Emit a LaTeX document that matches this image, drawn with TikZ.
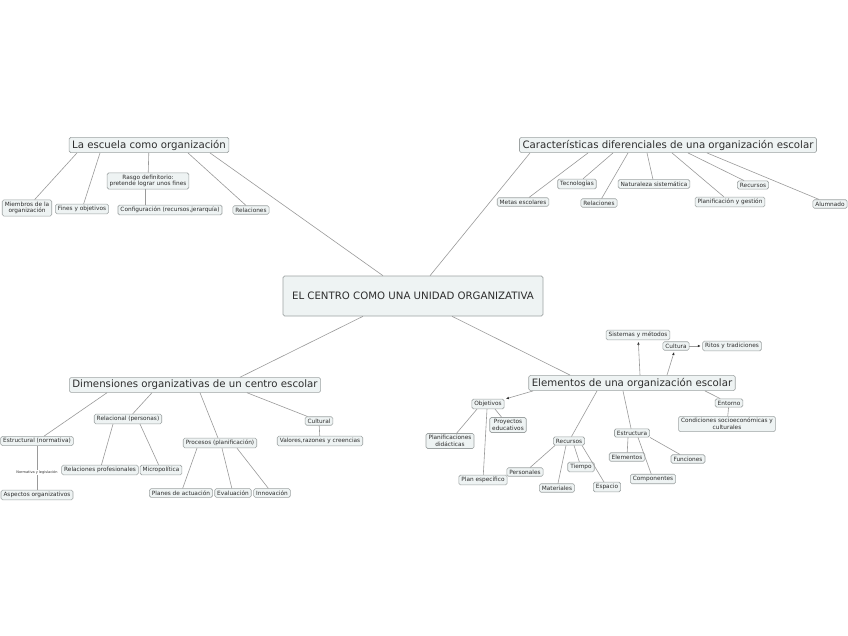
\documentclass[tikz,border=0pt]{standalone}
\usepackage{fontspec}
\setmainfont{DejaVu Sans}
\usetikzlibrary{calc, arrows.meta}

\definecolor{boxfill}{HTML}{EEF3F3}
\definecolor{boxline}{HTML}{9EA3A3}
\definecolor{linkgray}{HTML}{9A9A9A}
\definecolor{inkgray}{HTML}{2E2E2E}

\tikzset{
  boxbase/.style={draw=boxline, fill=boxfill, rounded corners=1.6pt, text=inkgray, line width=0.6pt},
  central/.style={boxbase, font=\fontsize{10.2}{12}\selectfont, minimum width=260pt, minimum height=40pt},
  topic/.style={boxbase, font=\fontsize{10.2}{12}\selectfont, inner xsep=3pt, inner ysep=2.5pt},
  leaf/.style={boxbase, font=\fontsize{5.8}{6.6}\selectfont, inner xsep=2.5pt, inner ysep=2pt, align=center},
  link/.style={draw=linkgray, line width=0.6pt},
  arrowlink/.style={link, -{Latex[length=3pt,width=2.6pt,color=black!80]}, shorten >=1.5pt},
  tag/.style={font=\fontsize{3.5}{4}\selectfont, fill=white, text=inkgray, inner sep=1pt}
}

\begin{document}
\begin{tikzpicture}[x=1pt, y=-1pt]

    \useasboundingbox (0,0) rectangle (848,636);
    \fill[white] (0,0) rectangle (848,636);

    % Central node
    \node[central] (centro) at (413,296) {EL CENTRO COMO UNA UNIDAD ORGANIZATIVA};

    % La escuela como organizacion
    \node[topic] (escuela) at (149,145) {La escuela como organización};
    \node[leaf] (rasgo) at (148,181) {Rasgo definitorio:\\pretende lograr unos fines};
    \node[leaf] (miembros) at (27,208) {Miembros de la\\organización};
    \node[leaf] (fines) at (82,209) {Fines y objetivos};
    \node[leaf] (config) at (170,210) {Configuración (recursos,jerarquía)};
    \node[leaf] (relesc) at (251,210) {Relaciones};

    % Caracteristicas diferenciales
    \node[topic] (caract) at (668,145) {Características diferenciales de una organización escolar};
    \node[leaf] (metas) at (523,202) {Metas escolares};
    \node[leaf] (tecno) at (577,184) {Tecnologías};
    \node[leaf] (relcar) at (599,203) {Relaciones};
    \node[leaf] (natur) at (654,184) {Naturaleza sistemática};
    \node[leaf] (planif) at (730,202) {Planificación y gestión};
    \node[leaf] (recar) at (753,185) {Recursos};
    \node[leaf] (alumnado) at (830,204) {Alumnado};

    % Dimensiones organizativas
    \node[topic] (dimens) at (195,385) {Dimensiones organizativas de un centro escolar};
    \node[leaf] (relacional) at (128,419) {Relacional (personas)};
    \node[leaf] (cultural) at (319,421) {Cultural};
    \node[leaf] (estructural) at (37,441) {Estructural (normativa)};
    \node[leaf] (valores) at (320,441) {Valores,razones y creencias};
    \node[leaf] (procesos) at (220,443) {Procesos (planificación)};
    \node[leaf] (relprof) at (100,470) {Relaciones profesionales};
    \node[leaf] (micro) at (161,470) {Micropolítica};
    \node[leaf] (aspectos) at (37,495) {Aspectos organizativos};
    \node[leaf] (planes) at (181,493) {Planes de actuación};
    \node[leaf] (evaluacion) at (233,493) {Evaluación};
    \node[leaf] (innovacion) at (272,493) {Innovación};

    % Elementos de una organizacion escolar
    \node[topic] (elementos) at (632,383) {Elementos de una organización escolar};
    \node[leaf] (sistemas) at (638,335) {Sistemas y métodos};
    \node[leaf] (cultura) at (676,346) {Cultura};
    \node[leaf] (ritos) at (732,346) {Ritos y tradiciones};
    \node[leaf] (objetivos) at (488,404) {Objetivos};
    \node[leaf] (entorno) at (729,403) {Entorno};
    \node[leaf] (condiciones) at (727,424) {Condiciones socioeconómicas y\\culturales};
    \node[leaf] (proyectos) at (508,425) {Proyectos\\educativos};
    \node[leaf] (planific) at (450,441) {Planificaciones\\didácticas};
    \node[leaf] (recursos) at (569,441) {Recursos};
    \node[leaf] (estructura) at (632,433) {Estructura};
    \node[leaf] (elemsub) at (627,457) {Elementos};
    \node[leaf] (funciones) at (688,459) {Funciones};
    \node[leaf] (componentes) at (653,479) {Componentes};
    \node[leaf] (tiempo) at (581,467) {Tiempo};
    \node[leaf] (personales) at (525,472) {Personales};
    \node[leaf] (planesp) at (483,480) {Plan específico};
    \node[leaf] (materiales) at (557,488) {Materiales};
    \node[leaf] (espacio) at (607,487) {Espacio};

    % Main branches
    \draw[link] ($(escuela.south)+(61,0)$) -- ($(centro.north)+(-30,0)$);
    \draw[link] ($(caract.south)+(-138,0)$) -- ($(centro.north)+(17,0)$);
    \draw[link] ($(centro.south)+(-50,0)$) -- ($(dimens.north)+(45,0)$);
    \draw[link] ($(centro.south)+(39,0)$) -- ($(elementos.north)+(-62,0)$);

    % Escuela branch
    \draw[link] ($(escuela.south)+(-72,0)$) -- (miembros);
    \draw[link] ($(escuela.south)+(-49,0)$) -- (fines);
    \draw[link] (escuela) -- (rasgo);
    \draw[link] ($(escuela.south)+(39,0)$) -- (relesc);
    \draw[link] ($(rasgo.south)+(-3,0)$) -- ($(config.north)+(-25,0)$);

    % Caracteristicas branch
    \draw[link] ($(caract.south)+(-80,0)$) -- (metas);
    \draw[link] ($(caract.south)+(-55,0)$) -- (tecno);
    \draw[link] ($(caract.south)+(-40,0)$) -- (relcar);
    \draw[link] ($(caract.south)+(-21,0)$) -- (natur);
    \draw[link] ($(caract.south)+(4,0)$) -- (planif);
    \draw[link] ($(caract.south)+(20,0)$) -- (recar);
    \draw[link] ($(caract.south)+(39,0)$) -- (alumnado);

    % Dimensiones branch
    \draw[link] ($(dimens.south)+(-88,0)$) -- (estructural);
    \draw[link] ($(dimens.south)+(-43,0)$) -- (relacional);
    \draw[link] ($(dimens.south)+(5,0)$) -- (procesos);
    \draw[link] ($(dimens.south)+(52,0)$) -- (cultural);
    \draw[link] (cultural) -- (valores);
    \draw[link] ($(relacional.south)+(-15,0)$) -- (relprof);
    \draw[link] ($(relacional.south)+(12,0)$) -- (micro);
    \draw[link] ($(procesos.south)+(-23,0)$) -- (planes);
    \draw[link] ($(procesos.south)+(2,0)$) -- (evaluacion);
    \draw[link] ($(procesos.south)+(17,0)$) -- (innovacion);
    \draw[link] (estructural) -- node[tag, pos=0.6] (normativa) {Normativa y legislación} (aspectos);

    % Elementos branch
    \draw[arrowlink] ($(elementos.north)+(8,0)$) -- (sistemas);
    \draw[arrowlink] ($(elementos.north)+(35,0)$) -- (cultura);
    \draw[arrowlink] (cultura) -- (ritos);
    \draw[arrowlink] ($(elementos.south)+(-99,0)$) -- (objetivos);
    \draw[link] ($(elementos.south)+(-35,0)$) -- (recursos);
    \draw[link] ($(elementos.south)+(-9,0)$) -- (estructura);
    \draw[link] ($(elementos.south)+(73,0)$) -- (entorno);
    \draw[link] (entorno) -- (condiciones);
    \draw[link] ($(objetivos.south)+(-11,0)$) -- (planific);
    \draw[link] ($(objetivos.south)+(-1,0)$) -- (planesp);
    \draw[link] ($(objetivos.south)+(7,0)$) -- (proyectos);
    \draw[link] ($(recursos.south)+(-14,0)$) -- (personales);
    \draw[link] ($(recursos.south)+(-3,0)$) -- (materiales);
    \draw[link] ($(recursos.south)+(5,0)$) -- (tiempo);
    \draw[link] ($(recursos.south)+(13,0)$) -- (espacio);
    \draw[link] ($(estructura.south)+(-4,0)$) -- (elemsub);
    \draw[link] ($(estructura.south)+(6,0)$) -- (componentes);
    \draw[link] ($(estructura.south)+(18,0)$) -- (funciones);

\end{tikzpicture}
\end{document}
